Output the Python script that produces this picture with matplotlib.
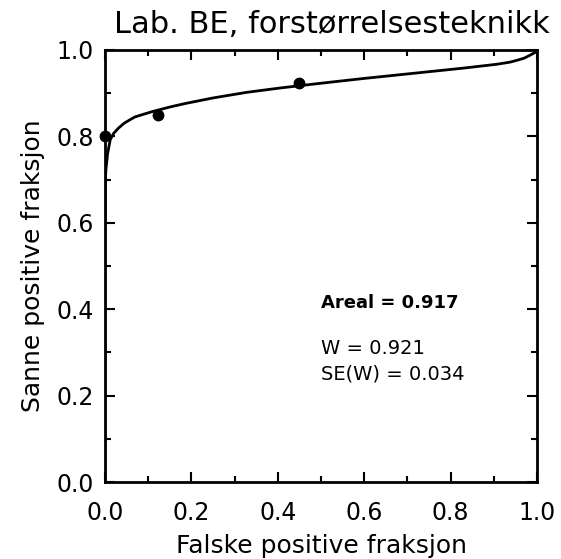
import matplotlib
matplotlib.use("Agg")
import matplotlib.pyplot as plt
from matplotlib.ticker import MultipleLocator

# ROC curve (false positive fraction, true positive fraction)
curve_fpf = [0.0, 0.0, 0.0005, 0.001, 0.002, 0.006, 0.012, 0.020, 0.031, 0.045, 0.069,
             0.108, 0.150, 0.185, 0.250, 0.328, 0.405, 0.482, 0.544, 0.598, 0.675,
             0.752, 0.829, 0.907, 0.938, 0.953, 0.970, 0.984, 0.995, 1.0]
curve_tpf = [0.0, 0.55, 0.65, 0.70, 0.722, 0.76, 0.792, 0.807, 0.819, 0.831, 0.845,
             0.857, 0.868, 0.876, 0.889, 0.902, 0.912, 0.921, 0.928, 0.934, 0.942,
             0.950, 0.958, 0.967, 0.972, 0.976, 0.981, 0.988, 0.994, 1.0]

# observed operating points
obs_fpf = [0.0, 0.123, 0.449]
obs_tpf = [0.80, 0.850, 0.924]

title = "Lab. BE, forstørrelsesteknikk"
xlabel = "Falske positive fraksjon"
ylabel = "Sanne positive fraksjon"
stats = ["Areal = 0.917", "W = 0.921", "SE(W) = 0.034"]

fig = plt.figure(figsize=(5.61, 5.59), dpi=100)
ax = fig.add_axes([105/561, 77/559, 432/561, 432/559])

ax.plot(curve_fpf, curve_tpf, color="black", lw=2.0, solid_capstyle="round",
        solid_joinstyle="round")
ax.plot(obs_fpf, obs_tpf, "o", color="black", ms=7.5, clip_on=False)

ax.set_xlim(0, 1)
ax.set_ylim(0, 1)
ax.xaxis.set_major_locator(MultipleLocator(0.2))
ax.xaxis.set_minor_locator(MultipleLocator(0.1))
ax.yaxis.set_major_locator(MultipleLocator(0.2))
ax.yaxis.set_minor_locator(MultipleLocator(0.1))
ax.xaxis.set_major_formatter(lambda v, p: f"{v:.1f}")
ax.yaxis.set_major_formatter(lambda v, p: f"{v:.1f}")
ax.tick_params(which="both", direction="in", top=True, right=True, width=1.5)
ax.tick_params(which="major", length=7, labelsize=17)
ax.tick_params(which="minor", length=4)
ax.tick_params(axis="x", pad=14)
ax.tick_params(axis="y", pad=8)
for s in ax.spines.values():
    s.set_linewidth(2.0)

ax.set_xlabel(xlabel, fontsize=18, labelpad=6)
ax.set_ylabel(ylabel, fontsize=18, labelpad=8)
fig.text(0.591, 1 - 33/559, title, fontsize=22, ha="center", va="baseline")

ax.text(0.5, 0.414, stats[0], fontsize=13, fontweight="bold", va="center")
ax.text(0.5, 0.31, stats[1], fontsize=14, va="center")
ax.text(0.5, 0.25, stats[2], fontsize=14, va="center")

fig.savefig("out.png", dpi=100)
